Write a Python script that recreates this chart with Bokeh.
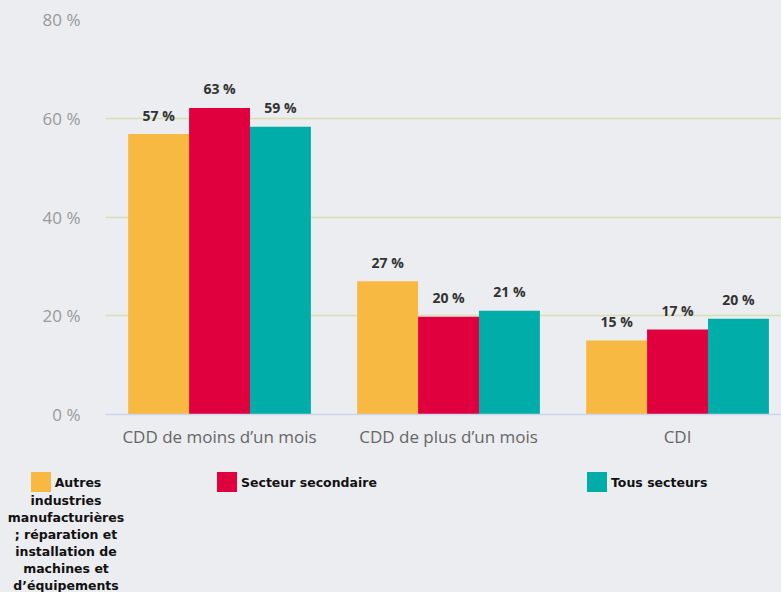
from bokeh.plotting import figure
from bokeh.models import Range1d, FixedTicker, PrintfTickFormatter, Div
from bokeh.layouts import column
from bokeh.core.properties import value
from bokeh.embed import file_html
from bokeh.resources import INLINE

# ---- data ----
categories = ["CDD de moins d’un mois", "CDD de plus d’un mois", "CDI"]
series_names = [
    "Autres industries manufacturières ; réparation et installation de machines et d’équipements",
    "Secteur secondaire",
    "Tous secteurs",
]
autres = [56.8, 27.0, 15.0]
secondaire = [62.1, 19.8, 17.2]
tous = [58.3, 21.0, 19.4]
autres_labels = ["57 %", "27 %", "15 %"]
secondaire_labels = ["63 %", "20 %", "17 %"]
tous_labels = ["59 %", "21 %", "20 %"]
y_ticks = [0, 20, 40, 60, 80]

colors = ["#f8b943", "#e1003e", "#00ada8"]
BG = "#ecedf0"

series_values = [autres, secondaire, tous]
series_labels = [autres_labels, secondaire_labels, tous_labels]

# ---- main chart ----
W = 781
H_MAIN = 455
p = figure(width=W, height=H_MAIN, output_backend="svg", toolbar_location=None,
           x_range=Range1d(-0.498, 2.454), y_range=Range1d(0, 80),
           min_border_left=105, min_border_right=0, min_border_top=19, min_border_bottom=41)
p.background_fill_color = BG
p.border_fill_color = BG
p.outline_line_color = None
p.styles = {"background-color": BG}

bar_w = 0.266
offsets = [-bar_w, 0.0, bar_w]
for vals, labs, col, off in zip(series_values, series_labels, colors, offsets):
    xs = [i + off for i in range(len(categories))]
    p.vbar(x=xs, top=vals, bottom=0, width=bar_w, fill_color=col, line_color=None)
    p.text(x=xs, y=vals, text=labs, text_align="center", text_baseline="alphabetic",
           y_offset=-19, text_font=value("Open Sans"), text_font_style="bold",
           text_font_size="14px", text_color="#333333")

p.xgrid.grid_line_color = None
p.ygrid.grid_line_color = "#d5e0b3"
p.ygrid.grid_line_width = 1.5
p.yaxis.ticker = FixedTicker(ticks=y_ticks)
p.yaxis.formatter = PrintfTickFormatter(format="%d %%")
p.yaxis.axis_line_color = None
p.yaxis.major_tick_line_color = None
p.yaxis.minor_tick_line_color = None
p.yaxis.major_label_standoff = 19
p.yaxis.major_label_text_font = "Open Sans"
p.yaxis.major_label_text_font_size = "17px"
p.yaxis.major_label_text_color = "#999999"

p.xaxis.ticker = FixedTicker(ticks=list(range(len(categories))))
p.xaxis.major_label_overrides = {i: c for i, c in enumerate(categories)}
p.xaxis.axis_line_color = "#ccd6eb"
p.xaxis.axis_line_width = 1.5
p.xaxis.major_tick_line_color = None
p.xaxis.minor_tick_line_color = None
p.xaxis.major_label_standoff = 4
p.xaxis.major_label_text_font = "Open Sans"
p.xaxis.major_label_text_font_size = "17px"
p.xaxis.major_label_text_color = "#666666"

# ---- HTML legend below the chart ----
H_LEG = 137
item_left = [4, 217, 587]
item_width = [124, None, None]
items_html = []
for name, col, left, wdt in zip(series_names, colors, item_left, item_width):
    box = ('<span style="display:inline-block;width:20px;height:20px;'
           f'background:{col};vertical-align:-5px;margin-right:4px;"></span>')
    if wdt:
        pos = f"left:{left}px;width:{wdt}px;text-align:center;"
    else:
        pos = f"left:{left}px;white-space:nowrap;"
    items_html.append(f'<div style="position:absolute;top:17px;{pos}">{box}{name}</div>')

legend_html = (
    f'<div style="position:relative;width:{W}px;height:{H_LEG}px;overflow:hidden;'
    f"background:{BG};font-family:'DejaVu Sans';font-weight:bold;font-size:12.5px;"
    'line-height:17px;color:#111111;">' + "".join(items_html) + "</div>"
)
legend = Div(text=legend_html, width=W, height=H_LEG, margin=(0, 0, 0, 0),
             styles={"background-color": BG})

layout = column(p, legend, spacing=0)
layout.styles = {"background-color": BG}
open("out.html", "w").write(file_html(layout, INLINE))
